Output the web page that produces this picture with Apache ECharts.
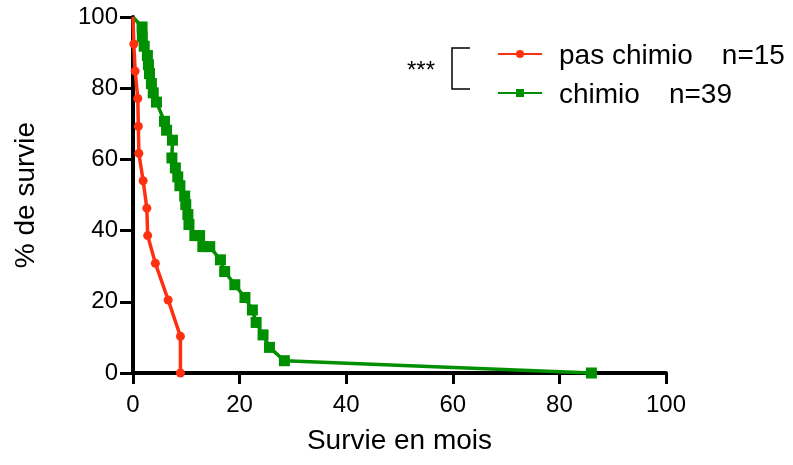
<!DOCTYPE html>
<html>
<head>
<meta charset="utf-8">
<script src="https://cdn.jsdelivr.net/npm/echarts@6/dist/echarts.min.js"></script>
<style>
  html, body { margin: 0; padding: 0; background: #fff; }
  #chart { width: 793px; height: 465px; }
</style>
</head>
<body>
<div id="chart"></div>
<script>
var xTicks = [0, 20, 40, 60, 80, 100];
var yTicks = [0, 20, 40, 60, 80, 100];

// pas chimio (n=15)
var redX = [0, 0.15, 0.4, 0.9, 1.0, 1.1, 1.9, 2.6, 2.75, 4.2, 6.6, 8.9, 8.9];
var redY = [100, 92.4, 84.8, 77.1, 69.3, 61.7, 54.0, 46.3, 38.6, 30.8, 20.5, 10.3, 0];

// chimio (n=39)
var greenX = [0, 1.7, 1.75, 2.1, 2.7, 2.9, 3.1, 3.45, 3.8, 4.4, 5.9, 6.3, 7.4, 7.3, 7.95, 8.4, 8.8,
  9.7, 9.9, 10.3, 10.5, 11.6, 12.5, 13.1, 14.4, 16.4, 17.2, 19.1, 21.0, 22.4, 23.1, 24.4, 25.6, 28.4, 86];
var greenY = [100, 97.2, 94.4, 91.8, 89.2, 86.6, 84.1, 81.3, 78.7, 76.1, 70.7, 68.2, 65.4, 60.4, 57.6, 55.1, 52.6,
  49.7, 47.3, 44.5, 41.7, 38.6, 38.6, 35.5, 35.5, 31.8, 28.5, 24.8, 21.2, 17.7, 14.2, 10.7, 7.2, 3.45, 0];

var names = ['pas chimio', 'chimio'];
var counts = ['n=15', 'n=39'];

var red = '#ff3010';
var green = '#008f00';
var font = '"Liberation Sans", Arial, sans-serif';

function points(xs, ys) {
  return xs.map(function (x, i) {
    var p = { value: [x, ys[i]] };
    if (i === 0) p.symbol = 'none';
    return p;
  });
}

var chart = echarts.init(document.getElementById('chart'));

var option = {
  animation: false,
  backgroundColor: '#fff',
  grid: { left: 133, right: 127, top: 17, bottom: 92 },
  xAxis: {
    type: 'value',
    min: 0, max: 100, interval: 20,
    name: 'Survie en mois',
    nameLocation: 'middle',
    nameGap: 54,
    nameTextStyle: { color: '#000', fontSize: 28, fontFamily: font },
    axisLine: { show: true, lineStyle: { color: '#000', width: 4 } },
    axisTick: { show: true, length: 11, lineStyle: { color: '#000', width: 3 } },
    axisLabel: {
      color: '#000', fontSize: 24, fontFamily: font, margin: 20,
      formatter: function (v) { return xTicks.indexOf(v) >= 0 ? String(v) : ''; }
    },
    splitLine: { show: false }
  },
  yAxis: {
    type: 'value',
    min: 0, max: 100, interval: 20,
    name: '% de survie',
    nameLocation: 'middle',
    nameGap: 93,
    nameTextStyle: { color: '#000', fontSize: 28, fontFamily: font },
    axisLine: { show: true, lineStyle: { color: '#000', width: 4 } },
    axisTick: { show: true, length: 13, lineStyle: { color: '#000', width: 3 } },
    axisLabel: {
      color: '#000', fontSize: 24, fontFamily: font, margin: 15,
      formatter: function (v) { return yTicks.indexOf(v) >= 0 ? String(v) : ''; }
    },
    splitLine: { show: false }
  },
  legend: {
    data: names,
    orient: 'vertical',
    left: 492,
    top: 33,
    itemWidth: 44,
    itemHeight: 10,
    itemGap: 7,
    formatter: function (n) {
      return '{a|' + n + '}{b|' + counts[names.indexOf(n)] + '}';
    },
    textStyle: {
      color: '#000', fontFamily: font, fontSize: 28,
      rich: {
        a: { fontSize: 28, fontFamily: font, color: '#000', lineHeight: 30, padding: [4, 0, 0, 12] },
        b: { fontSize: 28, fontFamily: font, color: '#000', lineHeight: 30, padding: [4, 0, 0, 29] }
      }
    }
  },
  graphic: [
    {
      type: 'polyline',
      shape: { points: [[470, 48], [452, 48], [452, 89], [470, 89]] },
      style: { stroke: '#000', lineWidth: 1.5, fill: null }
    },
    {
      type: 'text',
      left: 407, top: 59,
      style: { text: '***', fill: '#000', fontSize: 24, fontFamily: font }
    }
  ],
  series: [
    {
      name: 'chimio',
      type: 'line',
      data: points(greenX, greenY),
      symbol: 'rect',
      symbolSize: 11,
      lineStyle: { color: green, width: 3.5 },
      itemStyle: { color: green },
      z: 2
    },
    {
      name: 'pas chimio',
      type: 'line',
      data: points(redX, redY),
      symbol: 'circle',
      symbolSize: 9,
      lineStyle: { color: red, width: 3.5 },
      itemStyle: { color: red },
      z: 3
    }
  ]
};

chart.setOption(option);
</script>
</body>
</html>
